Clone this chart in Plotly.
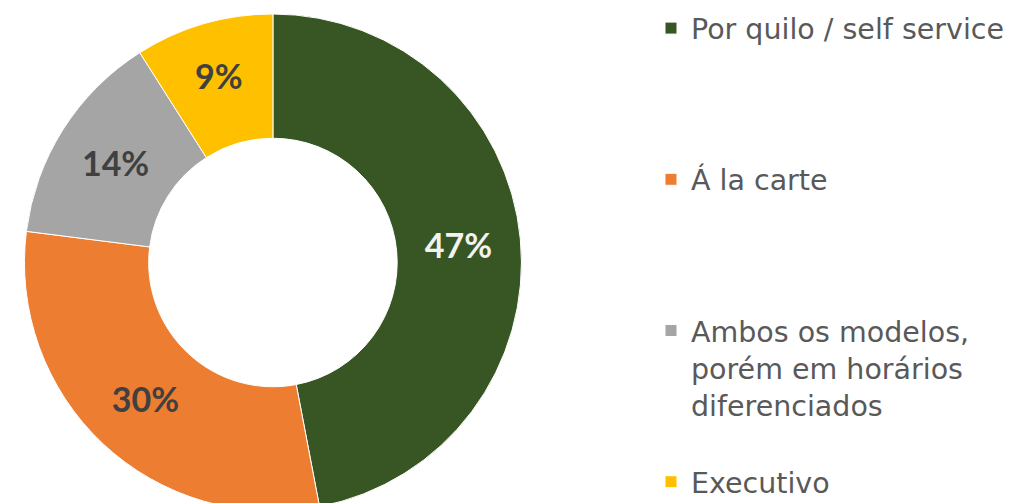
import plotly.graph_objects as go

categories = ["Por quilo / self service", "Á la carte",
              "Ambos os modelos, porém em horários diferenciados", "Executivo"]
values = [47, 30, 14, 9]
colors = ["#375623", "#ED7D31", "#A5A5A5", "#FFC000"]
label_colors = ["#F2F2F2", "#404040", "#404040", "#404040"]

# legend text (wrapped, padded so entries are spread like the original)
legend_labels = [
    "Por quilo / self service<br> <br> <br> ",
    "Á la carte<br> <br> <br> ",
    "Ambos os modelos,<br>porém em horários<br>diferenciados<br> ",
    "Executivo",
]

fig = go.Figure(go.Pie(
    labels=legend_labels,
    values=values,
    hole=0.5,
    sort=False,
    direction="clockwise",
    rotation=0,
    marker=dict(colors=colors, line=dict(color="white", width=1)),
    texttemplate="%{percent:.0%}",
    textposition="inside",
    insidetextorientation="horizontal",
    textfont=dict(family="Lato", size=34, color=label_colors, weight="bold"),
    domain=dict(x=[0.0, 0.52], y=[0.0, 1.0]),
))

fig.update_layout(
    width=1019, height=503,
    margin=dict(l=0, r=0, t=6, b=0, autoexpand=False),
    paper_bgcolor="white",
    plot_bgcolor="white",
    showlegend=True,
    legend=dict(
        x=0.631, y=1.022, xanchor="left", yanchor="top",
        valign="top",
        maxheight=800,
        font=dict(family="DejaVu Sans", size=28.5, color="#595959"),
        bgcolor="rgba(0,0,0,0)",
    ),
)

fig.write_html("out.html")
